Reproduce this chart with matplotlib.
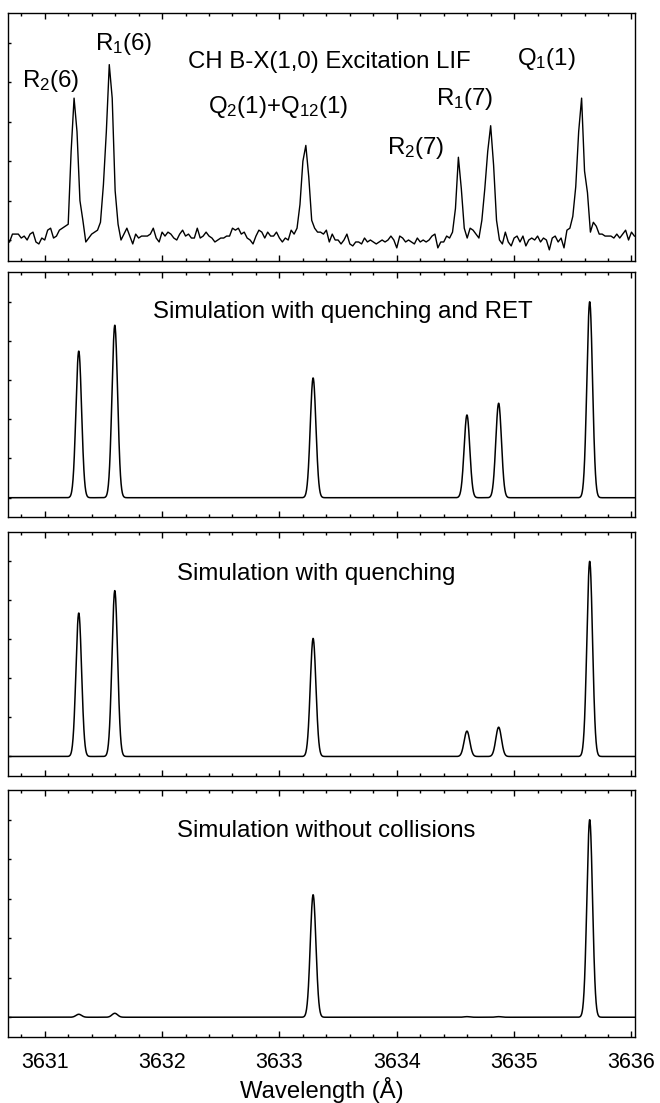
import numpy as np
import matplotlib.pyplot as plt
from matplotlib.ticker import MultipleLocator

plt.rcParams['font.family'] = ['Liberation Sans', 'DejaVu Sans']
plt.rcParams['mathtext.fontset'] = 'custom'
plt.rcParams['mathtext.rm'] = 'Liberation Sans'
plt.rcParams['mathtext.it'] = 'Liberation Sans:italic'

# measured LIF excitation scan, 0.025 A steps from 3630.70 A (signal in % of full scale)
lif_start = 3630.70
lif_step = 0.025
lif = [
    -1, 3, 3, 3, 1, 2, 0, 3, 4, -1, -2, 1, 0, 5, 6, 1, 2, 5, 6, 7, 8,
    45, 72, 55, 20, 10, -1,
    1, 3, 4, 5, 9, 28, 55, 89, 72, 25, 8, 0,
    3, 6, 2, -2, 3, 1, 2, 2, 2, 3, 6, 1, -1, 4, 2, 4,
    3, 1, 0, 3, 5, 2, 3, 1, 1, 6, 1, 2, 4, 2, 1, -1, 0, 1, 1, 2,
    2, 6, 5, 6, 3, 4, 1, 0, -2, 2, 5, 4, 1, 4, 2, 2, 4, 1, -1, 1,
    0, 5, 3, 6,
    18, 40, 48, 32, 10, 6, 4,
    4, 3, 5, -1, 3, 0, 0, -2, 0, 3, -2, -3, -1, -1, -2, 1, -1, 0, -1, -2,
    -1, 0, -1, 0, 2, 0, -4, 2, 1, -1, 0, -1, -2, 1, -1, 0, -1, 0, 2, 3,
    -4, -1, -1, 2, 1, 4,
    16, 42, 26, 6, 1, 6, 5, 3, 1, 10, 26, 45, 58, 38, 10, 0,
    -2, 4, -1, -3, 1, 2, -1, 2, -3, 0, 1, 0, 2, -1, 1, 0, -5, 1, 2, -1,
    1, -4, 5, 6, 12,
    27, 55, 72, 35, 24, 4, 9,
    7, 3, 3, 2, 2, 2, 1, 3, 1, 3, 5, 0, 4, 2,
]

# simulated line positions (A): R2(6), R1(6), Q2(1)+Q12(1), R2(7), R1(7), Q1(1)
sim_lines = [3631.290, 3631.597, 3633.287, 3634.598, 3634.868, 3635.644]
sim_width = 0.024

h_ret = [0.748, 0.880, 0.611, 0.422, 0.482, 1.0]
h_quench = [0.735, 0.850, 0.605, 0.130, 0.150, 1.0]
h_nocoll = [0.015, 0.020, 0.620, 0.003, 0.003, 1.0]

sim_titles = ['Simulation with quenching and RET',
              'Simulation with quenching',
              'Simulation without collisions']

xmin, xmax = 3630.687, 3636.03


def spectrum(wl, heights):
    y = np.zeros_like(wl)
    for x0, h in zip(sim_lines, heights):
        y += h * np.exp(-0.5 * ((wl - x0) / sim_width) ** 2)
    return y


def style_axis(ax, bottom_labels=False):
    ax.set_xlim(xmin, xmax)
    ax.set_ylim(-0.1, 1.15)
    ax.xaxis.set_major_locator(MultipleLocator(1))
    ax.xaxis.set_minor_locator(MultipleLocator(0.2))
    ax.yaxis.set_major_locator(MultipleLocator(0.2))
    ax.tick_params(axis='x', which='both', direction='in', top=True, bottom=True,
                   labelbottom=bottom_labels, labelsize=15.5, pad=11)
    ax.tick_params(axis='x', which='major', length=4.5, width=1)
    ax.tick_params(axis='x', which='minor', length=2.5, width=1)
    ax.tick_params(axis='y', which='both', direction='in', left=True, right=False,
                   labelleft=False, length=2.5, width=1)
    for s in ax.spines.values():
        s.set_linewidth(1.0)


fig = plt.figure(figsize=(6.6, 11.03), dpi=100)
W, H = 660.0, 1103.0


def box(top, bot):
    return [8 / W, 1 - bot / H, (635 - 8) / W, (bot - top) / H]


ax1 = fig.add_axes(box(13, 260.5))
ax2 = fig.add_axes(box(272.3, 517.3))
ax3 = fig.add_axes(box(532, 776))
ax4 = fig.add_axes(box(790, 1037))

# experimental trace
wl_exp = lif_start + lif_step * np.arange(len(lif))
ax1.plot(wl_exp, np.array(lif) / 100.0, color='black', lw=1.0)
style_axis(ax1)
ax1.set_ylim(-0.104, 1.152)

fs = 17.3
ax1.text(3632.219, 0.873, 'CH B-X(1,0) Excitation LIF', fontsize=fs)
ax1.text(3630.804, 0.777, r'R$_\mathregular{2}$(6)', fontsize=fs)
ax1.text(3631.426, 0.964, r'R$_\mathregular{1}$(6)', fontsize=fs)
ax1.text(3632.390, 0.645, r'Q$_\mathregular{2}$(1)+Q$_\mathregular{12}$(1)', fontsize=fs)
ax1.text(3633.916, 0.437, r'R$_\mathregular{2}$(7)', fontsize=fs)
ax1.text(3634.333, 0.685, r'R$_\mathregular{1}$(7)', fontsize=fs)
ax1.text(3635.024, 0.888, r'Q$_\mathregular{1}$(1)', fontsize=fs)

# simulations
wl = np.linspace(xmin, xmax, 3000)
for ax, heights, title, x0, ty in zip([ax2, ax3, ax4], [h_ret, h_quench, h_nocoll],
                                      sim_titles, [3631.921, 3632.125, 3632.125],
                                      [0.917, 0.905, 0.910]):
    ax.plot(wl, spectrum(wl, heights), color='black', lw=1.1)
    style_axis(ax, bottom_labels=(ax is ax4))
    ax.text(x0, ty, title, fontsize=fs)

ax4.set_xlabel('Wavelength (Å)', fontsize=17.2, labelpad=3)

fig.savefig('out.png', dpi=100)
